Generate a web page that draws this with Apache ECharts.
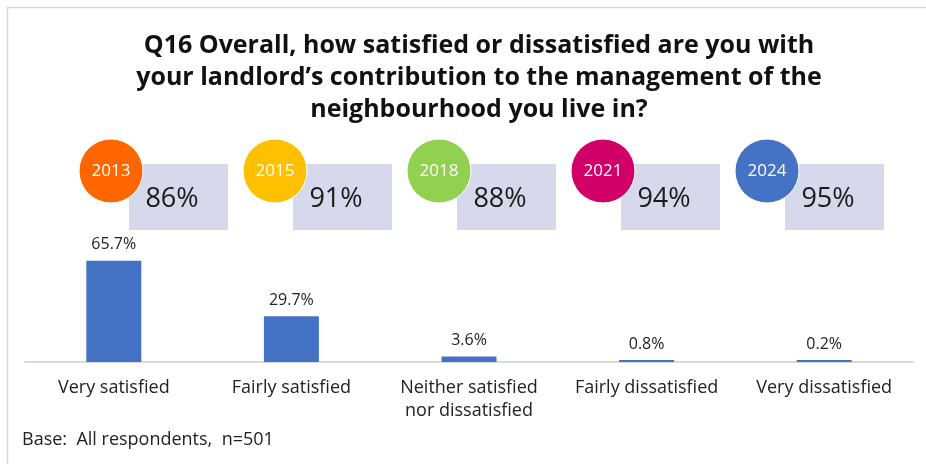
<!DOCTYPE html>
<html>
<head>
<meta charset="utf-8">
<script src="https://cdn.jsdelivr.net/npm/echarts@6/dist/echarts.min.js"></script>
<style>
  html, body { margin: 0; padding: 0; background: #ffffff; }
  #chart { width: 926px; height: 464px; }
</style>
</head>
<body>
<div id="chart"></div>
<script>
// Response categories and share of respondents (%)
const categories = ['Very satisfied', 'Fairly satisfied', 'Neither satisfied\nnor dissatisfied', 'Fairly dissatisfied', 'Very dissatisfied'];
const shares = [65.7, 29.7, 3.6, 0.8, 0.2];

// Overall satisfaction by survey year
const years = ['2013', '2015', '2018', '2021', '2024'];
const yearScores = [86, 91, 88, 94, 95];
const yearColors = ['#ff6600', '#ffc000', '#92d050', '#d10069', '#4472c4'];

const titleText = 'Q16 Overall, how satisfied or dissatisfied are you with\nyour landlord\u2019s contribution to the management of the\nneighbourhood you live in?';
const baseNote = 'Base:  All respondents,  n=501';

const FONT = '"Open Sans", "DejaVu Sans", sans-serif';

// Year badges: a coloured disc overlapping a pale score panel
const badgeStartX = 111, badgeStep = 164, badgeY = 171, badgeR = 32;
const panelW = 99, panelH = 66, panelDX = 18, panelY = 164;

const badgeGraphics = [];
years.forEach((yr, i) => {
  const cx = badgeStartX + i * badgeStep;
  badgeGraphics.push({
    type: 'rect', z: 1,
    shape: { x: cx + panelDX, y: panelY, width: panelW, height: panelH },
    style: { fill: '#d5d9eb' }
  });
  badgeGraphics.push({
    type: 'text', z: 2,
    x: cx + panelDX + 43, y: panelY + 35,
    style: {
      text: yearScores[i] + '%', fill: '#1a1a1a', font: '400 27px ' + FONT,
      align: 'center', verticalAlign: 'middle'
    }
  });
  badgeGraphics.push({
    type: 'circle', z: 3,
    shape: { cx: cx, cy: badgeY, r: badgeR },
    style: { fill: yearColors[i], stroke: '#ffffff', lineWidth: 1 }
  });
  badgeGraphics.push({
    type: 'text', z: 4,
    x: cx, y: badgeY,
    style: {
      text: yr, fill: '#ffffff', font: '400 17px ' + FONT,
      align: 'center', verticalAlign: 'middle'
    }
  });
});

const chart = echarts.init(document.getElementById('chart'), null, { renderer: 'canvas' });
chart.setOption({
  animation: false,
  backgroundColor: '#ffffff',
  title: {
    text: titleText,
    left: 474, top: 25,
    textAlign: 'center',
    textStyle: { fontFamily: FONT, fontWeight: 'bold', fontSize: 25, lineHeight: 32, color: '#111111' }
  },
  grid: { left: 25, right: 13, top: 208, bottom: 102, containLabel: false },
  xAxis: {
    type: 'category',
    data: categories,
    axisLine: { show: true, lineStyle: { color: '#d9d9d9', width: 2 } },
    axisTick: { show: false },
    axisLabel: { color: '#222222', fontFamily: FONT, fontSize: 18, lineHeight: 23, margin: 14, interval: 0 }
  },
  yAxis: { type: 'value', min: 0, max: 100, show: false },
  series: [{
    type: 'bar',
    data: shares,
    barWidth: 55,
    barMinHeight: 2,
    itemStyle: { color: '#4472c4' },
    label: {
      show: true, position: 'top', distance: 8,
      formatter: p => p.value.toFixed(1) + '%',
      color: '#222222', fontFamily: FONT, fontSize: 16
    }
  }],
  graphic: [
    {
      type: 'rect', z: 0,
      shape: { x: 7.5, y: 7.5, width: 1000, height: 1000 },
      style: { fill: 'none', stroke: '#d9d9d9', lineWidth: 1.5 }
    },
    {
      type: 'text', z: 5, x: 22, y: 440,
      style: { text: baseNote, fill: '#222222', font: '400 18px ' + FONT, verticalAlign: 'middle' }
    }
  ].concat(badgeGraphics)
});
</script>
</body>
</html>
